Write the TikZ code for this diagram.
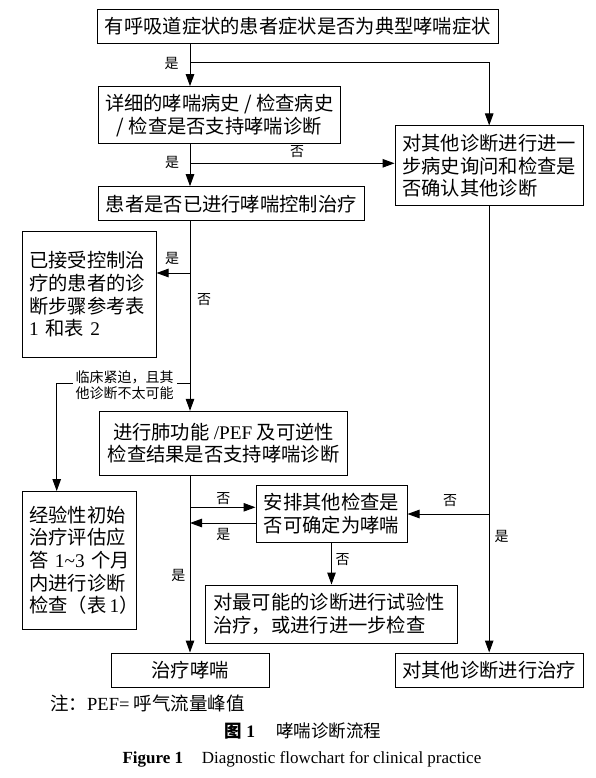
\documentclass[tikz,border=0pt]{standalone}
\usepackage{fontspec}
\setmainfont{Noto Sans CJK SC}
\newfontfamily\lat{Liberation Serif}
\usetikzlibrary{arrows.meta}
\tikzset{
  box/.style={draw, line width=1pt, inner sep=0pt, align=center, font=\fontsize{19.3}{22.7}\selectfont},
  arr/.style={line width=1pt, -{Triangle[length=12pt,width=8.5pt]}},
  lab/.style={font=\fontsize{14}{16.5}\selectfont, inner sep=1pt},
}
\begin{document}
\begin{tikzpicture}[x=1pt,y=-1pt]
\useasboundingbox (0,0) rectangle (596,778);
\fill[white] (0,0) rectangle (596,778);
\coordinate (mx) at (190,0);
\coordinate (lx) at (56.7,0);
% boxes
\node[box, minimum width=401pt, minimum height=34.3pt] (box1) at (297.8,26.2) {有呼吸道症状的患者症状是否为典型哮喘症状};
\node[box, minimum width=242pt, minimum height=57.3pt] (box2) at (219.3,115.3) {详细的哮喘病史 / 检查病史\\/ 检查是否支持哮喘诊断};
\node[box, minimum width=188.3pt, minimum height=79.7pt, text width=174pt, align=left] (box3) at (489.2,165.8) {对其他诊断进行进一\\步病史询问和检查是\\否确认其他诊断};
\node[box, minimum width=266pt, minimum height=34pt] (box4) at (231.3,203.7) {患者是否已进行哮喘控制治疗};
\node[box, minimum width=133.7pt, minimum height=125.6pt, text width=120pt, align=left] (box5) at (89.2,294.5) {已接受控制治\\疗的患者的诊\\断步骤参考表\\\mbox{{\lat 1} 和表 {\lat 2}}};
\node[box, minimum width=248.4pt, minimum height=63.7pt] (box6) at (223.5,443.2) {进行肺功能 {\lat /PEF} 及可逆性\\检查结果是否支持哮喘诊断};
\node[box, minimum width=113.7pt, minimum height=137.5pt, text width=100pt, align=left] (box7) at (79.2,560.3) {经验性初始\\治疗评估应\\\mbox{答 {\lat 1\textasciitilde3} 个月}\\内进行诊断\\\mbox{检查（表{\lat\,1}）}};
\node[box, minimum width=151pt, minimum height=57pt] (box8) at (331.5,513.5) {安排其他检查是\\否可确定为哮喘};
\node[box, minimum width=252pt, minimum height=58pt, text width=237pt, align=left] (box9) at (331.7,614) {对最可能的诊断进行试验性\\治疗，或进行进一步检查};
\node[box, minimum width=158.3pt, minimum height=34pt] (box10) at (190.2,670) {治疗哮喘};
\node[box, minimum width=188.3pt, minimum height=34pt] (box11) at (489.2,670) {对其他诊断进行治疗};
% branch coordinates
\coordinate (b1) at (190,62.3);
\coordinate (b2) at (190,163.3);
\coordinate (b3) at (190,273);
\coordinate (b4) at (190,383);
\coordinate (b5) at (190,507.3);
\coordinate (b6) at (190,523);
\coordinate (b7) at (489.2,514);
% connectors
\draw[arr] (box1.south -| mx) -- (box2.north -| mx);
\draw[arr] (b1) -| (box3.north);
\draw[arr] (box2.south -| mx) -- (box4.north -| mx);
\draw[arr] (b2) -- (b2 -| box3.west);
\draw[arr] (box4.south -| mx) -- (box6.north -| mx);
\draw[arr] (b3) -- (b3 -| box5.east);
\draw[arr] (b4) -- (b4 -| lx) -- (box7.north -| lx);
\draw[arr] (box6.south -| mx) -- (box10.north -| mx);
\draw[arr] (b5) -- (b5 -| box8.west);
\draw[arr] (b6 -| box8.west) -- (b6);
\draw[arr] (box3.south) -- (box11.north);
\draw[arr] (b7) -- (b7 -| box8.east);
\draw[arr] (box8.south) -- (box8.south |- box9.north);
% labels
\node[lab] (l1) at (171.7,63.3) {是};
\node[lab] (l2) at (172,162.3) {是};
\node[lab] (l3) at (297,152) {否};
\node[lab] (l4) at (172,258) {是};
\node[lab] (l5) at (204,299.7) {否};
\node[lab, fill=white, align=left, inner sep=3pt] (l6) at (124.7,385.3) {临床紧迫，且其\\他诊断不太可能};
\node[lab] (l7) at (223.3,499) {否};
\node[lab] (l8) at (223.3,534.7) {是};
\node[lab] (l9) at (450,500.7) {否};
\node[lab] (l10) at (501.7,536.3) {是};
\node[lab] (l11) at (178.3,575.3) {是};
\node[lab] (l12) at (342.7,559.7) {否};
% notes
\node[anchor=west, font=\fontsize{18.5}{20}\selectfont, inner sep=0pt] (note) at (50,703.7) {注：{\lat PEF=} 呼气流量峰值};
\node[font=\fontsize{17.5}{20}\selectfont, inner sep=0pt] (cap1) at (303,731.3) {\textbf{图 {\lat 1}}\hspace{1.2em}哮喘诊断流程};
\node[font=\lat\fontsize{17}{19}\selectfont, inner sep=0pt] (cap2) at (301.9,759.7) {\textbf{Figure 1}\hspace{1.1em}Diagnostic flowchart for clinical practice};
\end{tikzpicture}
\end{document}
